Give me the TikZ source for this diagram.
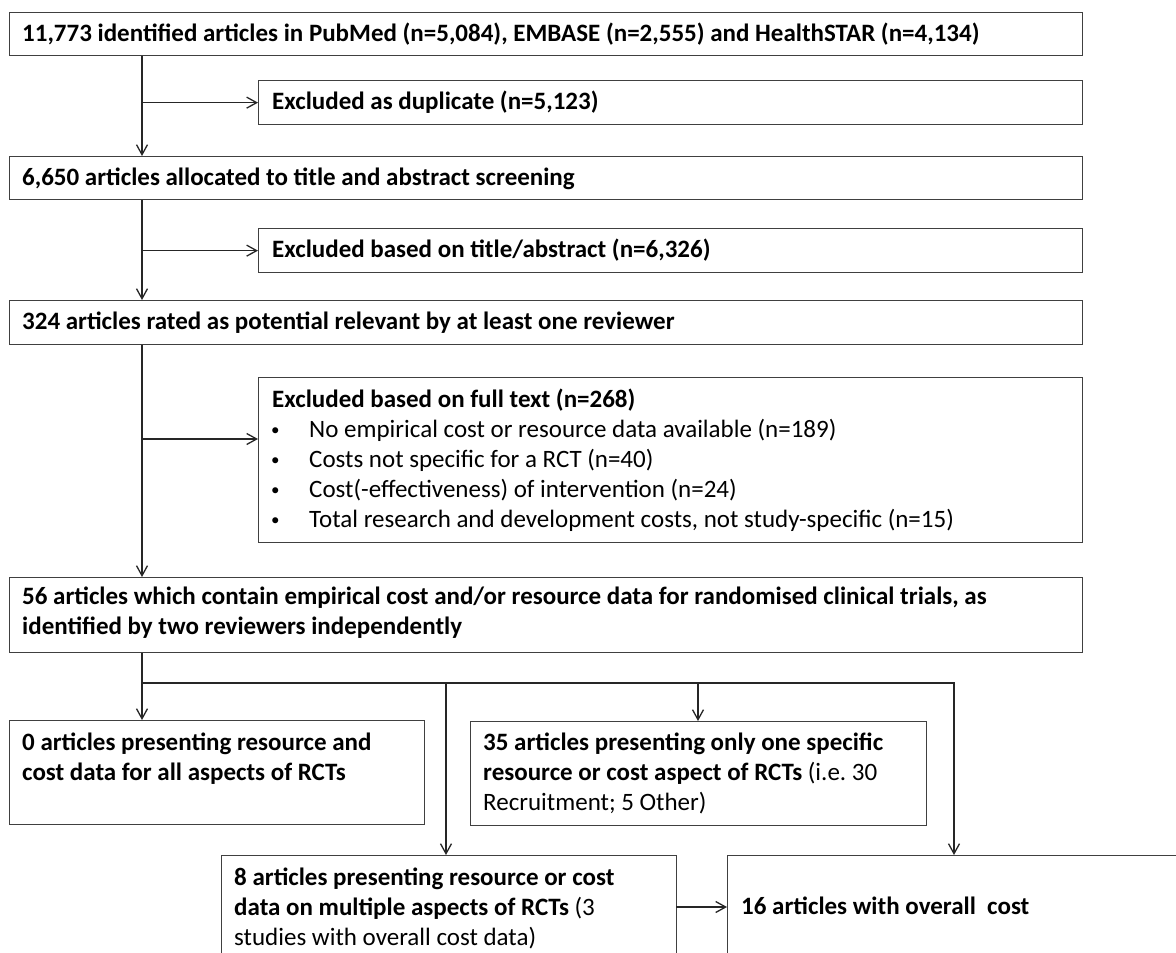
\documentclass[tikz,border=0pt]{standalone}
\usepackage{fontspec}
\setmainfont{Carlito}
\usetikzlibrary{arrows.meta}
\frenchspacing
\newcommand{\blt}{\makebox[39pt][l]{\hspace{1pt}{\fontsize{17}{17}\selectfont\raisebox{2pt}{•}}}}
\begin{document}
\begin{tikzpicture}[x=1pt,y=-1pt,
  box/.style={draw=black!75, line width=1.3pt, rectangle, inner sep=0pt, anchor=north west},
  txt/.style={anchor=base west, inner sep=0pt, font=\fontsize{25}{30}\selectfont},
  bt/.style={anchor=base west, inner sep=0pt, font=\fontsize{25}{30}\selectfont\bfseries},
  arr/.style={draw=black!85, line width=1.3pt, -{Straight Barb[length=10pt,width=11pt]}},
  ln/.style={draw=black!85, line width=1.3pt}]
\useasboundingbox (0,0) rectangle (1176,953);
% boxes
\node[box, minimum width=1073pt, minimum height=43pt] (b1) at (9,12) {};
\node[box, minimum width=824pt, minimum height=44pt] (b2) at (258,80) {};
\node[box, minimum width=1073pt, minimum height=43pt] (b3) at (9,156) {};
\node[box, minimum width=824pt, minimum height=44pt] (b4) at (258,228) {};
\node[box, minimum width=1073pt, minimum height=44pt] (b5) at (9,300) {};
\node[box, minimum width=824pt, minimum height=165pt] (b6) at (258,377) {};
\node[box, minimum width=1073pt, minimum height=75pt] (b7) at (9,577) {};
\node[box, minimum width=415pt, minimum height=104pt] (b8) at (9,720) {};
\node[box, minimum width=456pt, minimum height=104pt] (b9) at (470,721) {};
\node[box, minimum width=455pt, minimum height=130pt] (b10) at (221,855) {};
\node[box, minimum width=470pt, minimum height=130pt] (b11) at (727,855) {};
% texts
\node[bt] (t1) at (22,41.5) {11,773 identified articles in PubMed (n=5,084), EMBASE (n=2,555) and HealthSTAR (n=4,134)};
\node[bt] (t2) at (272,109) {Excluded as duplicate (n=5,123)};
\node[bt] (t3) at (22,185) {6,650 articles allocated to title and abstract screening};
\node[bt] (t4) at (272,257) {Excluded based on title/abstract (n=6,326)};
\node[bt] (t5) at (22,329) {324 articles rated as potential relevant by at least one reviewer};
\node[bt] (t6) at (272,407) {Excluded based on full text (n=268)};
\node[txt] (t6a) at (270,437) {\blt No empirical cost or resource data available (n=189)};
\node[txt] (t6b) at (270,467) {\blt Costs not specific for a RCT (n=40)};
\node[txt] (t6c) at (270,497) {\blt Cost(-effectiveness) of intervention (n=24)};
\node[txt] (t6d) at (270,527) {\blt Total research and development costs, not study-specific (n=15)};
\node[bt] (t7a) at (22,604) {56 articles which contain empirical cost and/or resource data for randomised clinical trials, as};
\node[bt] (t7b) at (22,634) {identified by two reviewers independently};
\node[bt] (t8a) at (22,750) {0 articles presenting resource and};
\node[bt] (t8b) at (22,780) {cost data for all aspects of RCTs};
\node[bt] (t9a) at (483,750) {35 articles presenting only one specific};
\node[txt] (t9b) at (483,780) {\textbf{resource or cost aspect of RCTs} (i.e. 30};
\node[txt] (t9c) at (483,810) {Recruitment; 5 Other)};
\node[bt] (t10a) at (234,885) {8 articles presenting resource or cost};
\node[txt] (t10b) at (234,915) {\textbf{data on multiple aspects of RCTs} (3};
\node[txt] (t10c) at (234,945) {studies with overall cost data)};
\node[bt] (t11) at (741,914) {16 articles with overall\ \ cost};
% connectors
\coordinate (vx) at (142,0);
\draw[arr] (vx |- b1.south) -- (vx |- b3.north);
\draw[arr] (vx |- b2.west) -- (b2.west);
\draw[arr] (vx |- b3.south) -- (vx |- b5.north);
\draw[arr] (vx |- b4.west) -- (b4.west);
\draw[arr] (vx |- b5.south) -- (vx |- b7.north);
\coordinate (a6) at (258,439);
\draw[arr] (vx |- a6) -- (a6);
\coordinate (split) at (142,683);
\coordinate (j1) at (446,683);
\coordinate (j2) at (698,683);
\coordinate (j3) at (954,683);
\draw[arr] (vx |- b7.south) -- (vx |- b8.north);
\draw[arr] (split) -- (j3) -- (j3 |- b11.north);
\draw[arr] (j1) -- (j1 |- b10.north);
\draw[arr] (j2) -- (j2 |- b9.north);
\coordinate (a11) at (676,907);
\draw[arr] (a11) -- (a11 -| b11.west);
\end{tikzpicture}
\end{document}
